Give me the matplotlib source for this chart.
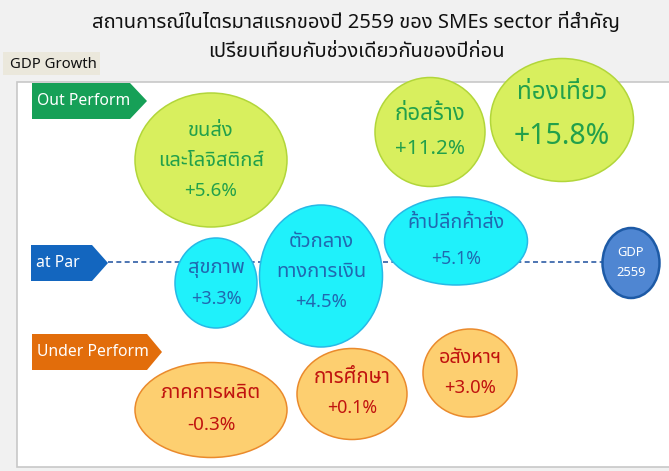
import matplotlib
matplotlib.use("Agg")
import matplotlib.pyplot as plt
from matplotlib.patches import Ellipse, Polygon, Rectangle
from matplotlib import font_manager
from matplotlib.ft2font import FT2Font

# ---------------- data ----------------
title_lines = ["สถานการณ์ในไตรมาสแรกของปี 2559 ของ SMEs sector ที่สำคัญ",
               "เปรียบเทียบกับช่วงเดียวกันของปีก่อน"]
axis_label = "GDP Growth"
group_names = ["Out Perform", "at Par", "Under Perform"]
sectors = ["ขนส่ง\nและโลจิสติกส์", "ก่อสร้าง", "ท่องเที่ยว",
           "สุขภาพ", "ตัวกลาง\nทางการเงิน", "ค้าปลีกค้าส่ง",
           "ภาคการผลิต", "การศึกษา", "อสังหาฯ"]
growth = [5.6, 11.2, 15.8, 3.3, 4.5, 5.1, -0.3, 0.1, 3.0]
group_of = [0, 0, 0, 1, 1, 1, 2, 2, 2]
gdp_label = "GDP\n2559"

# ---------------- layout (pixels) ----------------
W, H = 669, 471
cx = [211, 430, 562, 216, 321, 456, 211, 352, 470]
cy = [160, 132, 120, 283, 276, 241, 410, 394, 373]
bw = [152, 110, 143, 82, 123, 143, 152, 110, 94]
bh = [134, 109, 123, 90, 142, 88, 95, 91, 88]
text_cy = [161, 132, 115, 283, 272, 241, 409, 393, 373]
line_gap = [30, 35, 44, 31, 30, 35, 32, 30, 30]
name_fs = [14.5, 16, 17.5, 14.5, 14.5, 14.2, 14.5, 14.7, 14.2]
value_fs = [13.5, 14.8, 20.5, 13, 13.3, 12.8, 13.6, 12.8, 13.3]
gdp_pos = (631, 263, 57, 70)

fill_c = ["#d8ef5e", "#1ff1fb", "#fdcf70"]
edge_c = ["#b2d63a", "#27b9e6", "#ea8a2c"]
text_c = ["#22a04b", "#2168b0", "#c0130f"]
tag_c = ["#16a057", "#1366bf", "#e26d0b"]
tag_box = [(32, 83, 130, 147, 119), (31, 245, 92, 108, 281), (32, 334, 147, 162, 370)]

# ---------------- font with Thai ----------------
thai_font = None
prefer = ["Noto Sans Thai", "Noto Sans Thai UI", "Loma", "Garuda", "Waree", "Sarabun",
          "Kinnari", "Norasi", "Umpush", "Laksaman"]
found = {}
for fe in font_manager.fontManager.ttflist:
    try:
        cm = FT2Font(fe.fname).get_charmap()
    except Exception:
        continue
    if 0x0E01 in cm and 0x0E2A in cm and 0x0E48 in cm:
        found.setdefault(fe.name, fe.fname)
for p in prefer:
    if p in found:
        thai_font = p
        break
if thai_font is None and found:
    thai_font = sorted(found)[0]
fam = ([thai_font] if thai_font else []) + ["DejaVu Sans"]
plt.rcParams["font.family"] = fam

# ---------------- figure ----------------
fig = plt.figure(figsize=(W / 100, H / 100), dpi=100)
fig.patch.set_facecolor("#f1f1f1")
ax = fig.add_axes([0, 0, 1, 1])
ax.set_xlim(0, W)
ax.set_ylim(H, 0)
ax.axis("off")

# panel
ax.add_patch(Rectangle((17, 82), W - 17 + 5, 385, facecolor="white",
                       edgecolor="#c8c8c8", lw=1.2, zorder=0))

# title
ax.text(356, 22, title_lines[0], ha="center", va="center", fontsize=14.5, color="#111111")
ax.text(356, 52, title_lines[1], ha="center", va="center", fontsize=14.5, color="#111111")

# GDP Growth label
ax.add_patch(Rectangle((3, 52), 97, 23, facecolor="#ebe8dc", edgecolor="none", zorder=1))
ax.text(53, 64, axis_label, ha="center", va="center", fontsize=10.7, color="#111111", zorder=2)

# dashed par line
ax.plot([108, gdp_pos[0] - gdp_pos[2] / 2], [262, 262], ls=(0, (3, 2)), color="#2f5ea6",
        lw=1.2, zorder=1)

# tags
for g, (x0, y0, xs, xt, y1) in enumerate(tag_box):
    ym = (y0 + y1) / 2
    ax.add_patch(Polygon([(x0, y0), (xs, y0), (xt, ym), (xs, y1), (x0, y1)], closed=True,
                         facecolor=tag_c[g], edgecolor="none", zorder=2))
    ax.text(x0 + 5, ym, group_names[g], ha="left", va="center", fontsize=11.3,
            color="white", zorder=3)

# bubbles
for i, name in enumerate(sectors):
    g = group_of[i]
    ax.add_patch(Ellipse((cx[i], cy[i]), bw[i], bh[i], facecolor=fill_c[g],
                         edgecolor=edge_c[g], lw=1.1, zorder=4))
    names = name.split("\n")
    lines = names + [f"{growth[i]:+.1f}%"]
    n = len(lines)
    for k, ln in enumerate(lines):
        y = text_cy[i] + (k - (n - 1) / 2) * line_gap[i]
        fs = name_fs[i] if k < len(names) else value_fs[i]
        ax.text(cx[i], y, ln, ha="center", va="center", fontsize=fs,
                fontweight="medium", color=text_c[g], zorder=5)

# GDP bubble
gx, gy, gw, gh = gdp_pos
ax.add_patch(Ellipse((gx, gy), gw, gh, facecolor="#4f86d2", edgecolor="#1d5aa6",
                     lw=1.8, zorder=4))
gl = gdp_label.split("\n")
for k, ln in enumerate(gl):
    ax.text(gx, gy + (k - 0.5) * 20, ln, ha="center", va="center", fontsize=9.3,
            color="white", zorder=5)

fig.savefig("out.png", dpi=100, facecolor=fig.get_facecolor())
